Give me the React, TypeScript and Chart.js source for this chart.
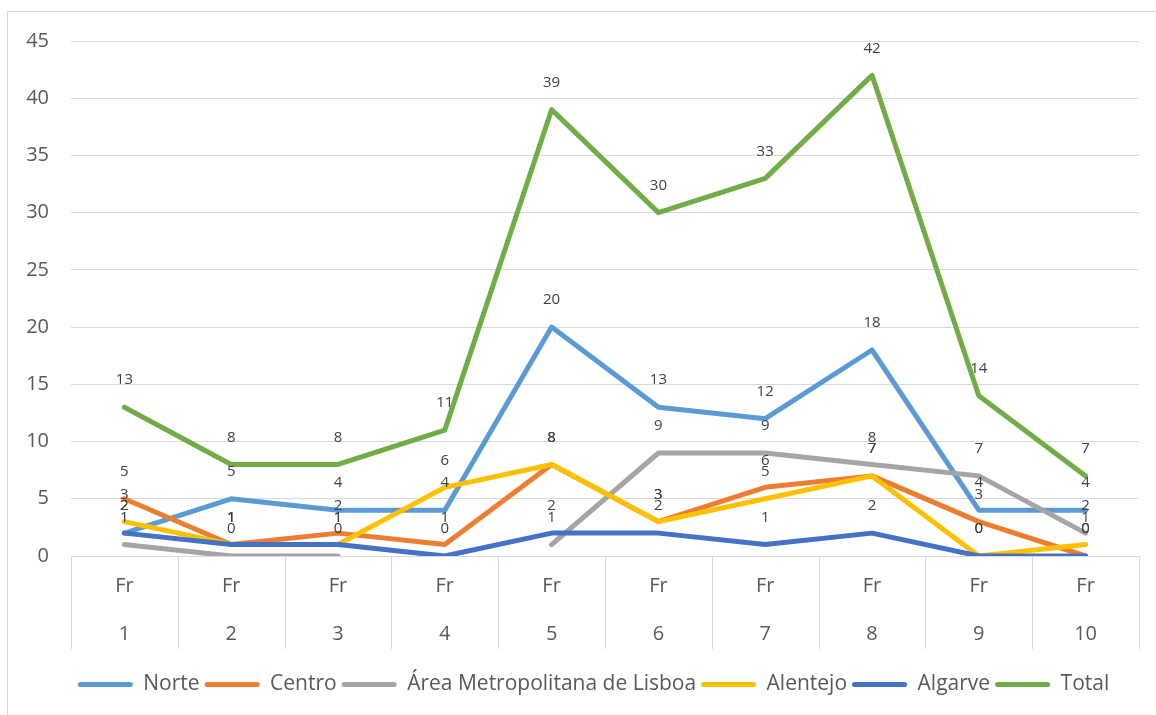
import React, { useEffect, useRef } from "react";
import { Chart, registerables } from "chart.js";

Chart.register(...registerables);

const categories = ["1", "2", "3", "4", "5", "6", "7", "8", "9", "10"];
const prefix = "Fr";
const norte = [2, 5, 4, 4, 20, 13, 12, 18, 4, 4];
const centro = [5, 1, 2, 1, 8, 3, 6, 7, 3, 0];
const lisboa = [1, 0, 0, null, 1, 9, 9, 8, 7, 2];
const alentejo = [3, 1, 1, 6, 8, 3, 5, 7, 0, 1];
const algarve = [2, 1, 1, 0, 2, 2, 1, 2, 0, 0];
const total = [13, 8, 8, 11, 39, 30, 33, 42, 14, 7];
const seriesNames = ["Norte", "Centro", "Área Metropolitana de Lisboa", "Alentejo", "Algarve", "Total"];
const seriesColors = ["#5B9BD5", "#ED7D31", "#A5A5A5", "#FFC000", "#4472C4", "#70AD47"];
const yMax = 45;
const yStep = 5;

const FONT = "'Open Sans', 'Noto Sans', sans-serif";
const TEXT = "#595959";
const GRID = "#d9d9d9";

const labelsPlugin = {
  id: "pointLabels",
  afterDatasetsDraw(chart: any) {
    const ctx = chart.ctx;
    ctx.save();
    ctx.font = `15px ${FONT}`;
    ctx.fillStyle = "#404040";
    ctx.textAlign = "center";
    ctx.textBaseline = "middle";
    chart.data.datasets.forEach((ds: any, i: number) => {
      const meta = chart.getDatasetMeta(i);
      meta.data.forEach((pt: any, j: number) => {
        const v = ds.data[j];
        if (v === null || v === undefined) return;
        ctx.fillText(String(v), pt.x, pt.y - 27);
      });
    });
    ctx.restore();
  },
};

const separatorPlugin = {
  id: "catSeparators",
  afterDraw(chart: any) {
    const { ctx, chartArea } = chart;
    const n = chart.data.labels.length;
    const w = (chartArea.right - chartArea.left) / n;
    ctx.save();
    ctx.strokeStyle = GRID;
    ctx.lineWidth = 1;
    for (let i = 0; i <= n; i++) {
      const x = Math.round(chartArea.left + i * w) + 0.5;
      ctx.beginPath();
      ctx.moveTo(x, chartArea.bottom);
      ctx.lineTo(x, chartArea.bottom + 93);
      ctx.stroke();
    }
    ctx.restore();
  },
};

const legendShiftPlugin = {
  id: "legendShift",
  afterLayout(chart: any) {
    const lg = chart.legend;
    if (lg) {
      lg.left += 20;
      lg.right += 20;
    }
  },
};

export default function App() {
  const ref = useRef<HTMLCanvasElement | null>(null);
  useEffect(() => {
    if (!ref.current) return;
    const values = [norte, centro, lisboa, alentejo, algarve, total];
    const chart = new Chart(ref.current, {
      type: "line",
      data: {
        labels: categories.map((c) => [prefix, c]),
        datasets: values.map((d, i) => ({
          label: seriesNames[i],
          data: d,
          borderColor: seriesColors[i],
          backgroundColor: seriesColors[i],
          borderWidth: 5,
          pointRadius: 0,
          pointHoverRadius: 0,
          tension: 0,
          spanGaps: false,
          borderCapStyle: "round",
          borderJoinStyle: "round",
          order: values.length - i,
        })),
      },
      options: {
        responsive: false,
        animation: false,
        layout: { padding: { top: 29, right: 17, bottom: 10, left: 0 } },
        scales: {
          x: {
            offset: true,
            grid: { display: false, drawTicks: false },
            border: { display: false },
            ticks: {
              padding: 6,
              maxRotation: 0,
              autoSkip: false,
              color: TEXT,
              font: { family: FONT, size: 20, lineHeight: 48 / 20 },
            },
            afterFit(scale: any) {
              scale.height = 113;
            },
          },
          y: {
            min: 0,
            max: yMax,
            ticks: {
              stepSize: yStep,
              padding: 22,
              color: TEXT,
              font: { family: FONT, size: 20 },
            },
            grid: { color: GRID, lineWidth: 1, drawTicks: false },
            border: { display: false },
            afterFit(scale: any) {
              scale.width = 63;
              scale.paddingTop = 0;
              scale.paddingBottom = 0;
            },
          },
        },
        plugins: {
          tooltip: { enabled: false },
          legend: {
            position: "bottom",
            labels: {
              boxWidth: 55,
              boxHeight: 5,
              padding: 5,
              color: TEXT,
              font: { family: FONT, size: 21 },
              useBorderRadius: true,
              borderRadius: 2.5,
              sort: (a: any, b: any) => a.datasetIndex - b.datasetIndex,
              generateLabels(chart: any) {
                const items = (Chart.defaults.plugins.legend.labels as any).generateLabels(chart);
                return items.map((it: any) => ({
                  ...it,
                  fillStyle: it.strokeStyle,
                  lineWidth: 0,
                  borderRadius: 2.5,
                }));
              },
            },
          },
        },
      },
      plugins: [labelsPlugin, separatorPlugin, legendShiftPlugin],
    } as any);
    return () => chart.destroy();
  }, []);

  return (
    <div
      style={{
        position: "fixed",
        left: 7,
        top: 11,
        width: 1200,
        height: 760,
        border: `1px solid ${GRID}`,
        background: "#fff",
      }}
    >
      <canvas ref={ref} width={1148} height={703} style={{ display: "block" }} />
    </div>
  );
}
